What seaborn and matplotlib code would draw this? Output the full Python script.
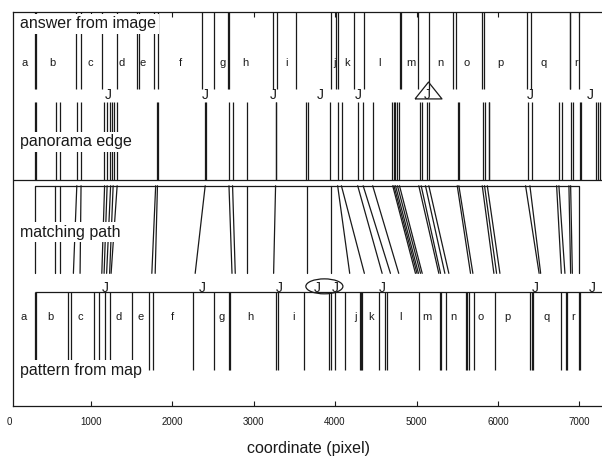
import numpy as np
import pandas as pd
import matplotlib
matplotlib.use('Agg')
import matplotlib.pyplot as plt
from matplotlib.patches import Ellipse
import seaborn as sns

# edge positions along the strip (pixel coordinate), read row by row
answer_edges = [317, 327, 821, 882, 1140, 1325, 1571, 1595, 1780, 1829, 2370, 2517, 2689, 2699,
                3242, 3291, 3525, 3951, 4016, 4037, 4238, 4360, 4803, 4813, 5024, 5159,
                5451, 5483, 5807, 5827, 6360, 6401, 6880, 6890, 6999]
answer_label_x = [194, 526, 993, 1386, 1632, 2099, 2615, 2898, 3402, 3992, 4152, 4545,
                  4926, 5295, 5614, 6032, 6561, 6954]

panorama_edges = [317, 327, 575, 624, 830, 882, 1169, 1198, 1239, 1267, 1292, 1329, 1813, 1823,
                  2406, 2416, 2698, 2742, 2919, 3270, 3280, 3648, 3664, 3943, 4036, 4082, 4283,
                  4348, 4469, 4705, 4723, 4742, 4766, 4791, 5049, 5073, 5132, 5159, 5512, 5522,
                  5811, 5835, 5885, 5895, 6370, 6413, 6750, 6782, 6898, 6923, 7005, 7015,
                  7203, 7233, 7257]
panorama_J = [1214, 2406, 3242, 3820, 4287, 5135, 6401, 7138]

path_top = [317, 563, 618, 830, 882, 1171, 1202, 1245, 1276, 1325, 1798, 1820, 2406, 2698, 2742,
            2919, 3270, 3656, 3951, 4032, 4078, 4278, 4345, 4462, 4708, 4723, 4742, 4766, 4791,
            5028, 5057, 5110, 5151, 5500, 5520, 5807, 5835, 5869, 6339, 6392, 6720, 6748, 6871,
            6892, 6999]
path_bottom = [317, 563, 618, 788, 870, 1137, 1165, 1196, 1233, 1251, 1751, 1792, 2283, 2735, 2775,
               2919, 3246, 3656, 3951, 4180, 4360, 4578, 4680, 4782, 4987, 5006, 5024, 5049, 5070,
               5274, 5295, 5348, 5397, 5663, 5692, 5950, 5983, 6024, 6505, 6524, 6778, 6822, 6892,
               6913, 6999]

map_edges = [317, 327, 719, 760, 1042, 1107, 1177, 1239, 1513, 1718, 1771, 2255, 2508, 2693, 2714,
             3270, 3300, 3623, 3922, 3951, 4004, 4127, 4311, 4322, 4332, 4545, 4619, 4640, 5028,
             5286, 5303, 5356, 5602, 5622, 5642, 5704, 5962, 6392, 6413, 6434, 6769, 6831, 6852,
             6999, 7010]
map_label_x = [173, 501, 870, 1341, 1608, 2005, 2612, 2960, 3492, 4250, 4443, 4803, 5131, 5459,
               5786, 6122, 6598, 6926]
map_J = [1177, 2366, 3320, 3779, 4004, 4578, 6462, 7159]

segment_labels = list('abcdefghijklmnopqr')
triangle_x = 5135
ellipse_x = 3869

# row layout in axes fraction (bottom, top)
ROW_ANSWER = (0.8035, 1.0)
ROW_PANO = (0.572, 0.7712)
ROW_PATH = (0.3356, 0.5581)
ROW_MAP = (0.089, 0.2873)
XMAX = 7300

sns.set_theme(style='white')
plt.rcParams['font.family'] = ['Liberation Sans', 'DejaVu Sans']
plt.rcParams['text.color'] = 'k'

fig = plt.figure(figsize=(6.02, 4.58), dpi=100)
ax = fig.add_axes([0.0211, 0.1146, 0.982, 0.8598])

LW = 0.9
box = dict(facecolor='white', edgecolor='none', pad=2)

# answer from image
ax.vlines(answer_edges, *ROW_ANSWER, color='k', lw=LW)
for lab, x in zip(segment_labels, answer_label_x):
    ax.text(x, 0.87, lab, fontsize=8, ha='center', va='center')
ax.text(133, 0.969, 'answer from image', fontsize=11.5, va='center', bbox=box, zorder=5)

# panorama edge
ax.vlines(panorama_edges, *ROW_PANO, color='k', lw=LW)
ax.axhline(ROW_PANO[0], color='k', lw=LW)
for x in panorama_J:
    ax.text(x, 0.788, 'J', fontsize=10, ha='center', va='center')
ax.plot(triangle_x, 0.801, marker=[(-1.6, -1), (1.6, -1), (0, 1), (-1.6, -1)], ms=19.4,
        mfc='none', mec='k', mew=LW)
ax.text(133, 0.6695, 'panorama edge', fontsize=11.5, va='center', bbox=box, zorder=5)

# matching path
n = len(path_top)
paths = pd.DataFrame({
    'id': np.repeat(np.arange(n), 2),
    'x': np.column_stack([path_top, path_bottom]).ravel(),
    'y': np.tile([ROW_PATH[1], ROW_PATH[0]], n),
})
sns.lineplot(data=paths, x='x', y='y', units='id', estimator=None, sort=False,
             color='k', lw=LW, ax=ax, legend=False)
ax.hlines(ROW_PATH[1], path_top[0], path_top[-1], color='k', lw=LW)
ax.text(133, 0.4406, 'matching path', fontsize=11.5, va='center', bbox=box, zorder=5)

# pattern from map
ax.vlines(map_edges, *ROW_MAP, color='k', lw=LW)
ax.hlines(ROW_MAP[1], map_edges[0], XMAX, color='k', lw=LW)
for lab, x in zip(segment_labels, map_label_x):
    ax.text(x, 0.226, lab, fontsize=8, ha='center', va='center')
for x in map_J:
    ax.text(x, 0.298, 'J', fontsize=10, ha='center', va='center')
ax.add_patch(Ellipse((ellipse_x, 0.3026), width=455, height=0.038, fill=False, ec='k', lw=LW))
ax.text(133, 0.089, 'pattern from map', fontsize=11.5, va='center', bbox=box, zorder=5)

ax.set_xlim(43, XMAX)
ax.set_ylim(0, 1)
ax.set_xticks(range(1000, 8000, 1000))
ax.set_yticks([])
ax.tick_params(axis='x', direction='in', length=3.6, width=0.8, top=True, bottom=True,
               labelsize=7, pad=8.5, colors='k')
ax.text(0, -0.043, '0', fontsize=7, ha='center', va='center',
        transform=ax.get_xaxis_transform(), clip_on=False)
ax.set_xlabel('coordinate (pixel)', fontsize=11.5, labelpad=10, color='k')
ax.set_ylabel('')
for sp in ax.spines.values():
    sp.set_color('k')
    sp.set_linewidth(0.9)

fig.savefig('out.png', dpi=100, facecolor='white')
